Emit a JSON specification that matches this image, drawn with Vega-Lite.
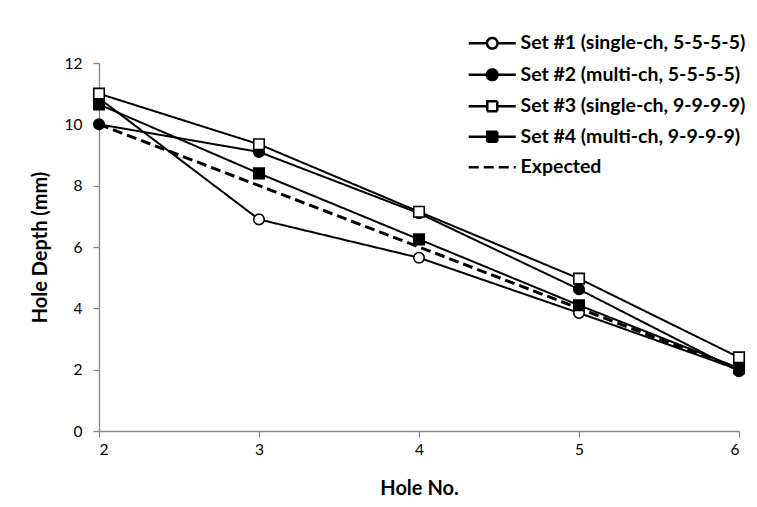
{
  "$schema": "https://vega.github.io/schema/vega-lite/v6.json",
  "width": 640,
  "height": 368,
  "autosize": {"type": "none"},
  "padding": {"left": 99, "top": 63, "right": 18, "bottom": 76},
  "background": "white",
  "config": {
    "view": {"stroke": null},
    "font": "Lato",
    "axis": {
      "grid": false,
      "domainColor": "#868686",
      "domainWidth": 1.3,
      "tickColor": "#868686",
      "tickWidth": 1.3,
      "tickSize": 6,
      "labelFont": "Lato",
      "labelFontSize": 15.5,
      "labelColor": "black",
      "titleFont": "Lato",
      "titleFontSize": 20,
      "titleFontWeight": "bold",
      "titleColor": "black"
    },
    "legend": {
      "orient": "none",
      "legendX": 383.5,
      "legendY": -29.5,
      "symbolSize": 100,
      "symbolStrokeWidth": 2.5,
      "symbolOpacity": 1,
      "symbolStrokeColor": "black",
      "labelFont": "Lato",
      "labelFontSize": 19.5,
      "labelFontWeight": "bold",
      "labelColor": "black",
      "labelOffset": 18.5,
      "rowPadding": 9.5,
      "labelLimit": 400
    }
  },
  "data": {
    "values": [
      {"hole": 2, "depth": 10.85, "series": "Set #1 (single-ch, 5-5-5-5)", "marker": "circle"},
      {"hole": 3, "depth": 6.9, "series": "Set #1 (single-ch, 5-5-5-5)", "marker": "circle"},
      {"hole": 4, "depth": 5.65, "series": "Set #1 (single-ch, 5-5-5-5)", "marker": "circle"},
      {"hole": 5, "depth": 3.85, "series": "Set #1 (single-ch, 5-5-5-5)", "marker": "circle"},
      {"hole": 6, "depth": 2.0, "series": "Set #1 (single-ch, 5-5-5-5)", "marker": "circle"},
      {"hole": 2, "depth": 10.0, "series": "Set #2 (multi-ch, 5-5-5-5)", "marker": "circle"},
      {"hole": 3, "depth": 9.1, "series": "Set #2 (multi-ch, 5-5-5-5)", "marker": "circle"},
      {"hole": 4, "depth": 7.1, "series": "Set #2 (multi-ch, 5-5-5-5)", "marker": "circle"},
      {"hole": 5, "depth": 4.62, "series": "Set #2 (multi-ch, 5-5-5-5)", "marker": "circle"},
      {"hole": 6, "depth": 1.95, "series": "Set #2 (multi-ch, 5-5-5-5)", "marker": "circle"},
      {"hole": 2, "depth": 11.0, "series": "Set #3 (single-ch, 9-9-9-9)", "marker": "square"},
      {"hole": 3, "depth": 9.35, "series": "Set #3 (single-ch, 9-9-9-9)", "marker": "square"},
      {"hole": 4, "depth": 7.15, "series": "Set #3 (single-ch, 9-9-9-9)", "marker": "square"},
      {"hole": 5, "depth": 4.97, "series": "Set #3 (single-ch, 9-9-9-9)", "marker": "square"},
      {"hole": 6, "depth": 2.4, "series": "Set #3 (single-ch, 9-9-9-9)", "marker": "square"},
      {"hole": 2, "depth": 10.65, "series": "Set #4 (multi-ch, 9-9-9-9)", "marker": "square"},
      {"hole": 3, "depth": 8.4, "series": "Set #4 (multi-ch, 9-9-9-9)", "marker": "square"},
      {"hole": 4, "depth": 6.25, "series": "Set #4 (multi-ch, 9-9-9-9)", "marker": "square"},
      {"hole": 5, "depth": 4.1, "series": "Set #4 (multi-ch, 9-9-9-9)", "marker": "square"},
      {"hole": 6, "depth": 2.05, "series": "Set #4 (multi-ch, 9-9-9-9)", "marker": "square"},
      {"hole": 2, "depth": 10, "series": "Expected", "marker": "none"},
      {"hole": 3, "depth": 8, "series": "Expected", "marker": "none"},
      {"hole": 4, "depth": 6, "series": "Expected", "marker": "none"},
      {"hole": 5, "depth": 4, "series": "Expected", "marker": "none"},
      {"hole": 6, "depth": 2, "series": "Expected", "marker": "none"}
    ]
  },
  "encoding": {
    "x": {
      "field": "hole",
      "type": "quantitative",
      "scale": {"domain": [2, 6], "nice": false, "zero": false},
      "axis": {"values": [2, 3, 4, 5, 6], "format": "d", "title": "Hole No.", "labelPadding": 5, "titlePadding": 21}
    },
    "y": {
      "field": "depth",
      "type": "quantitative",
      "scale": {"domain": [0, 12], "nice": false},
      "axis": {"values": [0, 2, 4, 6, 8, 10, 12], "title": "Hole Depth (mm)", "labelPadding": 11, "titlePadding": 14}
    }
  },
  "layer": [
    {
      "transform": [{"filter": "datum.series !== 'Expected'"}],
      "mark": {"type": "line", "color": "black", "strokeWidth": 2},
      "encoding": {
        "strokeDash": {
          "field": "series",
          "type": "nominal",
          "scale": {
            "domain": ["Set #1 (single-ch, 5-5-5-5)", "Set #2 (multi-ch, 5-5-5-5)", "Set #3 (single-ch, 9-9-9-9)", "Set #4 (multi-ch, 9-9-9-9)", "Expected"],
            "range": [[1, 0], [1, 0], [1, 0], [1, 0], [10, 5]]
          },
          "legend": {"title": null}
        }
      }
    },
    {
      "transform": [{"filter": "datum.series === 'Expected'"}],
      "mark": {"type": "line", "color": "black", "strokeWidth": 3},
      "encoding": {
        "strokeDash": {"field": "series", "type": "nominal", "legend": {"title": null}}
      }
    },
    {
      "transform": [{"filter": "datum.marker === 'circle'"}],
      "mark": {"type": "point", "shape": "circle", "filled": true, "stroke": "black", "strokeWidth": 1.6, "size": 110, "opacity": 1},
      "encoding": {
        "fill": {
          "field": "series",
          "type": "nominal",
          "scale": {
            "domain": ["Set #1 (single-ch, 5-5-5-5)", "Set #2 (multi-ch, 5-5-5-5)", "Set #3 (single-ch, 9-9-9-9)", "Set #4 (multi-ch, 9-9-9-9)", "Expected"],
            "range": ["white", "black", "white", "black", "white"]
          },
          "legend": {"title": null}
        }
      }
    },
    {
      "transform": [{"filter": "datum.marker === 'square'"}],
      "mark": {"type": "point", "shape": "square", "filled": true, "stroke": "black", "strokeWidth": 1.6, "size": 110, "opacity": 1},
      "encoding": {
        "fill": {"field": "series", "type": "nominal", "legend": {"title": null}}
      }
    },
    {
      "mark": {"type": "point", "filled": true, "strokeWidth": 2.5, "size": 100, "opacity": 0},
      "encoding": {
        "shape": {
          "field": "series",
          "type": "nominal",
          "scale": {
            "domain": ["Set #1 (single-ch, 5-5-5-5)", "Set #2 (multi-ch, 5-5-5-5)", "Set #3 (single-ch, 9-9-9-9)", "Set #4 (multi-ch, 9-9-9-9)", "Expected"],
            "range": [
              "M-4.7,0H-1.06M1.06,0H4.7M-1.06,0A1.06,1.06,0,1,1,1.06,0A1.06,1.06,0,1,1,-1.06,0Z",
              "M-4.7,0H-1.06M1.06,0H4.7M-1.06,0A1.06,1.06,0,1,1,1.06,0A1.06,1.06,0,1,1,-1.06,0Z",
              "M-4.7,0H-1M1,0H4.7M-1,-1H1V1H-1Z",
              "M-4.7,0H-1M1,0H4.7M-1,-1H1V1H-1Z",
              "M-4.7,0H4.7"
            ]
          },
          "legend": {"title": null}
        },
        "fill": {"field": "series", "type": "nominal", "legend": {"title": null}},
        "stroke": {
          "field": "series",
          "type": "nominal",
          "scale": {
            "domain": ["Set #1 (single-ch, 5-5-5-5)", "Set #2 (multi-ch, 5-5-5-5)", "Set #3 (single-ch, 9-9-9-9)", "Set #4 (multi-ch, 9-9-9-9)", "Expected"],
            "range": ["black", "black", "black", "black", "black"]
          },
          "legend": {"title": null}
        },
        "strokeDash": {"field": "series", "type": "nominal", "legend": {"title": null}}
      }
    }
  ]
}
